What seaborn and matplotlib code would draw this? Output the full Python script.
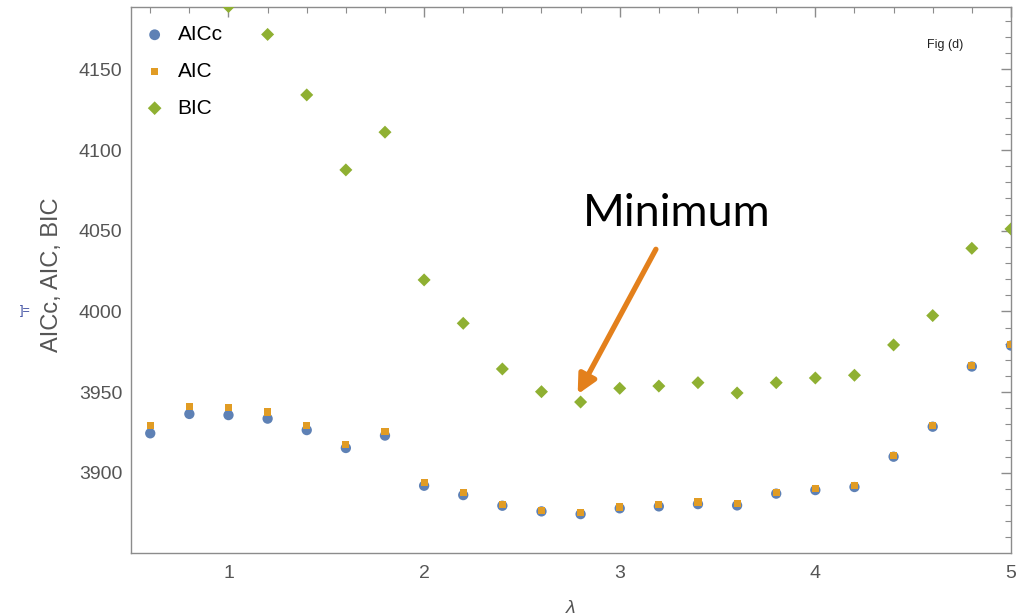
import numpy as np
import pandas as pd
import matplotlib
matplotlib.use("Agg")
import matplotlib.pyplot as plt
from matplotlib.ticker import MultipleLocator, FixedLocator
import seaborn as sns

# Penalty parameter grid
lam = [0.6, 0.8, 1.0, 1.2, 1.4, 1.6, 1.8, 2.0, 2.2, 2.4, 2.6, 2.8,
       3.0, 3.2, 3.4, 3.6, 3.8, 4.0, 4.2, 4.4, 4.6, 4.8, 5.0]

aicc = [3924.4, 3936.4, 3935.7, 3933.5, 3926.4, 3915.3, 3923.0, 3891.9,
        3886.1, 3879.5, 3876.0, 3874.3, 3877.9, 3879.1, 3880.5, 3879.7,
        3887.0, 3889.2, 3891.1, 3909.9, 3928.5, 3965.8, 3978.8]

aic = [3929.2, 3941.1, 3940.5, 3937.6, 3929.3, 3917.4, 3925.6, 3894.0,
       3887.8, 3880.5, 3876.8, 3875.2, 3878.7, 3880.1, 3881.8, 3881.1,
       3887.8, 3890.4, 3891.9, 3910.7, 3929.2, 3966.6, 3979.4]

# the first two BIC values lie above the plotted range
bic = [np.nan, np.nan, 4189.0, 4171.7, 4134.2, 4087.7, 4111.1, 4019.5,
       3992.6, 3964.3, 3950.2, 3943.8, 3952.3, 3953.7, 3955.8, 3949.4,
       3955.8, 3958.7, 3960.4, 3979.2, 3997.4, 4039.1, 4051.1]

x_major = [1, 2, 3, 4, 5]
y_major = [3900, 3950, 4000, 4050, 4100, 4150]

series_names = ["AICc", "AIC", "BIC"]
colors = {"AICc": "#5E81B5", "AIC": "#E19C24", "BIC": "#8FB032"}
markers = {"AICc": "o", "AIC": "s", "BIC": "D"}
msizes = {"AICc": 55, "AIC": 26, "BIC": 44}

df = pd.DataFrame({"lam": lam, "AICc": aicc, "AIC": aic, "BIC": bic})
long = df.melt(id_vars="lam", var_name="crit", value_name="value").dropna()

sns.set_theme(style="white")
plt.rcParams["font.family"] = ["Liberation Sans", "DejaVu Sans"]

fig = plt.figure(figsize=(10.25, 6.16), dpi=100)
ax = fig.add_axes([0.1275, 0.1028, 0.8588, 0.8853])

for name in series_names:
    sub = long[long["crit"] == name]
    sns.scatterplot(data=sub, x="lam", y="value", ax=ax, color=colors[name],
                    marker=markers[name], s=msizes[name], edgecolor="none",
                    linewidth=0, label=name, zorder=3)

ax.set_xlim(0.5, 5.0)
ax.set_ylim(3850.4, 4188.5)

ax.xaxis.set_major_locator(FixedLocator(x_major))
ax.xaxis.set_minor_locator(FixedLocator([v for v in np.arange(0.6, 5.0, 0.2)
                                         if abs(v - round(v)) > 1e-6]))
ax.yaxis.set_major_locator(FixedLocator(y_major))
ax.yaxis.set_minor_locator(MultipleLocator(10))

tick_gray = "#8c8c8c"
label_gray = "#555555"
for sp in ax.spines.values():
    sp.set_color(tick_gray)
    sp.set_linewidth(1.0)
ax.tick_params(which="both", direction="in", top=True, right=True,
               color=tick_gray, labelcolor=label_gray, labelsize=14)
ax.tick_params(which="major", length=7, width=1.0)
ax.tick_params(axis="y", which="major", pad=6)
ax.tick_params(axis="x", which="major", pad=9)
ax.tick_params(which="minor", length=4, width=0.8)
ax.set_xticklabels([str(v) for v in x_major])
ax.set_yticklabels([str(v) for v in y_major])

ax.set_xlabel("λ", fontsize=14, style="italic", color=label_gray, labelpad=13)
ax.set_ylabel("AICc, AIC, BIC", fontsize=17, color=label_gray)
ax.yaxis.set_label_coords(-0.077, 0.51)

leg = ax.legend(loc="upper left", bbox_to_anchor=(0.0, 0.992),
                frameon=False, fontsize=15,
                handlelength=1.0, handletextpad=0.6, labelspacing=0.85,
                borderpad=0.3, borderaxespad=0.35, markerscale=1.05)
for t in leg.get_texts():
    t.set_color("black")

ax.text(4.664, 4165, "Fig (d)", fontsize=9, color="#222222",
        ha="center", va="center")

# annotation pointing at the BIC minimum
ax.annotate("", xy=(2.785, 3948.6), xytext=(3.185, 4038.5),
            arrowprops=dict(arrowstyle="-|>", color="#E3801C", lw=3.8,
                            mutation_scale=28, shrinkA=0, shrinkB=0))
ax.text(3.29, 4052.8, "Minimum", fontsize=32.5, family="Lato",
        color="black", ha="center", va="baseline")

fig.text(0.0195, 0.495, "]=", fontsize=9, color="#3b4ba0",
         ha="left", va="center")

fig.savefig("out.png", dpi=100)
